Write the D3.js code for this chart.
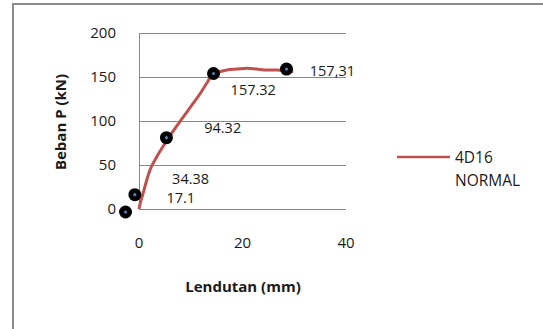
<!DOCTYPE html>
<html><head><meta charset="utf-8">
<script src="https://cdn.jsdelivr.net/npm/d3@7"></script>
<style>body{margin:0;background:#fff}svg{display:block}</style>
</head><body>
<script>
// Curve: 4D16 NORMAL (Lendutan mm, Beban kN)
const curveX = [0, 0.3, 0.8, 1.4, 2.1, 3.5, 5.4, 7.0, 8.5, 10.2, 11.8, 13.2, 14.3, 15.5, 17.0, 19.0, 20.9, 22.8, 24.7, 26.6, 28.6, 29.8];
const curveY = [0, 8, 18, 31, 44, 60, 78, 92, 104, 118, 131, 144, 154, 156, 158, 159, 160, 159, 158, 158, 157, 156];
// Marker points
const markX = [-2.6, -0.8, 5.3, 14.4, 28.5];
const markY = [-3.4, 16.3, 81, 154, 159];
// Data labels (text and anchor in data units)
const labelText = ["157,31", "157.32", "94.32", "34.38", "17.1"];
const labelX = [33.0, 17.7, 12.6, 6.4, 5.3];
const labelY = [157, 135, 92, 34.5, 12.8];
const xTicks = [0, 20, 40];
const yTicks = [0, 50, 100, 150, 200];
const seriesName = ["4D16", "NORMAL"];

const W = 543, H = 329;
const svg = d3.select("body").append("svg").attr("width", W).attr("height", H);
const font = "'Open Sans', sans-serif";
const txt = "#1a1a1a";

// frame
svg.append("path").attr("d", `M13,${H} L13,4 L${W},4`).attr("fill", "none")
  .attr("stroke", "#8c8c8c").attr("stroke-width", 2);

const x = d3.scaleLinear().domain([0, 40]).range([139, 346]);
const y = d3.scaleLinear().domain([0, 200]).range([209, 33]);

// gridlines
svg.append("g").selectAll("line").data(yTicks).join("line")
  .attr("x1", x(0)).attr("x2", x(40)).attr("y1", d => y(d) + 0.5).attr("y2", d => y(d) + 0.5)
  .attr("stroke", "#888").attr("stroke-width", 1);
// y axis line
svg.append("line").attr("x1", x(0) + 0.5).attr("x2", x(0) + 0.5).attr("y1", y(200)).attr("y2", y(0))
  .attr("stroke", "#888");

// tick labels
svg.append("g").selectAll("text").data(yTicks).join("text")
  .attr("x", 116).attr("y", d => y(d)).attr("dy", "0.35em").attr("text-anchor", "end")
  .attr("font-family", font).attr("font-size", 15).attr("fill", txt).text(d => d);
svg.append("g").selectAll("text").data(xTicks).join("text")
  .attr("x", d => x(d)).attr("y", 243).attr("dy", "0.35em").attr("text-anchor", "middle")
  .attr("font-family", font).attr("font-size", 15).attr("fill", txt).text(d => d);

// axis titles
svg.append("text").attr("transform", "translate(61,122) rotate(-90)").attr("text-anchor", "middle")
  .attr("dy", "0.35em").attr("font-family", font).attr("font-weight", "bold").attr("font-size", 15)
  .attr("fill", txt).text("Beban P (kN)");
svg.append("text").attr("x", 243).attr("y", 287).attr("text-anchor", "middle").attr("dy", "0.35em")
  .attr("font-family", font).attr("font-weight", "bold").attr("font-size", 15)
  .attr("fill", txt).text("Lendutan (mm)");

// curve
const pts = curveX.map((v, i) => [v, curveY[i]]);
svg.append("path").datum(pts)
  .attr("d", d3.line().x(d => x(d[0])).y(d => y(d[1])).curve(d3.curveMonotoneX))
  .attr("fill", "none").attr("stroke", "#c0504d").attr("stroke-width", 3).attr("stroke-linejoin", "round");

// markers
const mk = markX.map((v, i) => [v, markY[i]]);
svg.append("g").selectAll("circle").data(mk).join("circle")
  .attr("cx", d => x(d[0])).attr("cy", d => y(d[1])).attr("r", 6.5).attr("fill", "#000");
svg.append("g").selectAll("circle").data(mk).join("circle")
  .attr("cx", d => x(d[0])).attr("cy", d => y(d[1])).attr("r", 1.6).attr("fill", "#4f81bd");

// data labels
svg.append("g").selectAll("text").data(labelText).join("text")
  .attr("x", (d, i) => x(labelX[i])).attr("y", (d, i) => y(labelY[i])).attr("dy", "0.35em")
  .attr("font-family", font).attr("font-size", 14.5).attr("fill", txt).text(d => d);

// legend
svg.append("line").attr("x1", 397).attr("x2", 450).attr("y1", 157).attr("y2", 157)
  .attr("stroke", "#c0504d").attr("stroke-width", 2.5);
svg.append("g").selectAll("text").data(seriesName).join("text")
  .attr("x", 455).attr("y", (d, i) => 158 + i * 23).attr("dy", "0.35em")
  .attr("font-family", font).attr("font-size", 15.5).attr("fill", txt).text(d => d);
</script>
</body></html>
